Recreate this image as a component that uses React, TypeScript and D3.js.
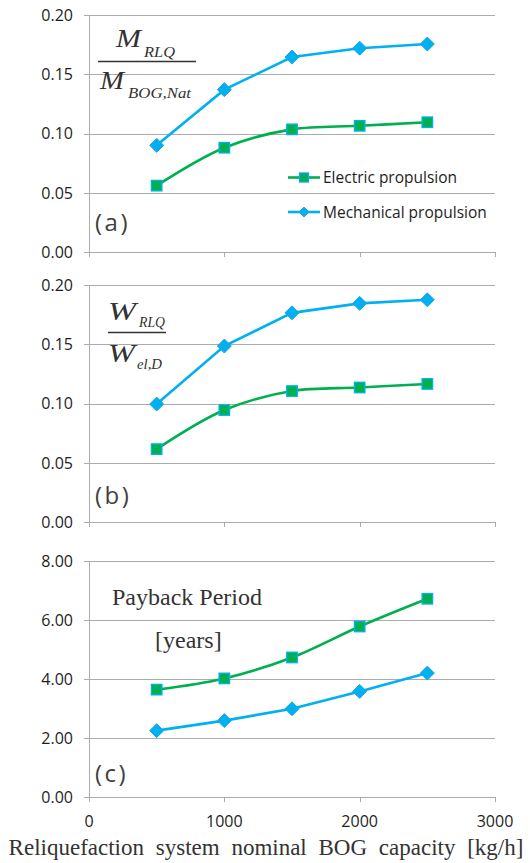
import React from "react";
import * as d3 from "d3";

// Reliquefaction system nominal BOG capacity [kg/h]
const capacities = [500, 1000, 1500, 2000, 2500];

// (a) liquefied mass ratio
const massElectric = [0.056, 0.088, 0.1035, 0.1065, 0.1095];
const massMechanical = [0.09, 0.137, 0.1645, 0.172, 0.1755];

// (b) power ratio
const powerElectric = [0.0615, 0.0945, 0.1105, 0.1135, 0.1165];
const powerMechanical = [0.0995, 0.1485, 0.1765, 0.1845, 0.1875];

// (c) payback period [years]
const paybackElectric = [3.64, 4.02, 4.73, 5.78, 6.72];
const paybackMechanical = [2.25, 2.59, 2.99, 3.58, 4.2];

const xTicks = [0, 1000, 2000, 3000];
const ratioTicks = [0, 0.05, 0.1, 0.15, 0.2];
const paybackTicks = [0, 2, 4, 6, 8];

const seriesNames = ["Electric propulsion", "Mechanical propulsion"];

const GREEN = "#00B050";
const BLUE = "#00B0F0";
const GRID = "#ababab";
const TEXT = "#1e1e1e";
const LABEL = "#404040";

const W = 530;
const H = 863;

const x = d3.scaleLinear().domain([0, 3000]).range([89, 495]);

type PanelProps = {
  top: number;
  bottom: number;
  max: number;
  ticks: number[];
  electric: number[];
  mechanical: number[];
  tag: string;
  tagY: number;
  showXLabels?: boolean;
  children?: React.ReactNode;
};

function Square({ cx, cy, s }: { cx: number; cy: number; s: number }) {
  return (
    <rect
      x={cx - s / 2}
      y={cy - s / 2}
      width={s}
      height={s}
      fill={GREEN}
      stroke={BLUE}
      strokeWidth={1.3}
    />
  );
}

function Diamond({ cx, cy, r }: { cx: number; cy: number; r: number }) {
  return (
    <path
      d={`M${cx},${cy - r}L${cx + r},${cy}L${cx},${cy + r}L${cx - r},${cy}Z`}
      fill={BLUE}
      stroke="#1fa6db"
      strokeWidth={1}
    />
  );
}

function Panel(p: PanelProps) {
  const y = d3.scaleLinear().domain([0, p.max]).range([p.bottom, p.top]);
  const smooth = d3
    .line<number>()
    .x((_, i) => x(capacities[i]))
    .y((v) => y(v))
    .curve(d3.curveCatmullRom.alpha(0.5));
  const straight = d3
    .line<number>()
    .x((_, i) => x(capacities[i]))
    .y((v) => y(v));
  const [x0, x1] = x.range();
  return (
    <g>
      {p.ticks.map((t) => (
        <g key={t}>
          <line
            x1={x0 - 5}
            x2={x1}
            y1={Math.round(y(t)) + 0.5}
            y2={Math.round(y(t)) + 0.5}
            stroke={GRID}
            strokeWidth={1}
          />
          <text
            x={73}
            y={y(t)}
            dy="0.36em"
            textAnchor="end"
            fontFamily="'Open Sans', sans-serif"
            fontSize={16}
            fill={TEXT}
          >
            {d3.format(".2f")(t)}
          </text>
        </g>
      ))}
      <line x1={x0 + 0.5} x2={x0 + 0.5} y1={p.top} y2={p.bottom + 5} stroke={GRID} />
      {xTicks.slice(1).map((t) => (
        <line
          key={t}
          x1={Math.round(x(t)) + 0.5}
          x2={Math.round(x(t)) + 0.5}
          y1={p.bottom}
          y2={p.bottom + 5}
          stroke={GRID}
        />
      ))}
      {p.showXLabels &&
        xTicks.map((t) => (
          <text
            key={t}
            x={x(t)}
            y={p.bottom + 24.5}
            dy="0.36em"
            textAnchor="middle"
            fontFamily="'Open Sans', sans-serif"
            fontSize={16}
            fill={TEXT}
          >
            {t}
          </text>
        ))}
      {p.children}
      <text
        x={95}
        y={p.tagY}
        dy="0.36em"
        fontFamily="'Open Sans', sans-serif"
        fontSize={24}
        letterSpacing={2.5}
        fill={LABEL}
      >
        ({p.tag})
      </text>
      <path d={smooth(p.electric) || ""} fill="none" stroke={GREEN} strokeWidth={2.6} />
      <path d={straight(p.mechanical) || ""} fill="none" stroke={BLUE} strokeWidth={2.6} />
      {p.electric.map((v, i) => (
        <Square key={i} cx={x(capacities[i])} cy={y(v)} s={10.5} />
      ))}
      {p.mechanical.map((v, i) => (
        <Diamond key={i} cx={x(capacities[i])} cy={y(v)} r={7} />
      ))}
    </g>
  );
}

const serif = "'Liberation Serif', 'Times New Roman', serif";

export default function App() {
  return (
    <svg
      width={W}
      height={H}
      viewBox={`0 0 ${W} ${H}`}
      style={{ position: "absolute", left: 0, top: 0, background: "#fff" }}
    >
      <rect width={W} height={H} fill="#fff" />

      <Panel
        top={15}
        bottom={252}
        max={0.2}
        ticks={ratioTicks}
        electric={massElectric}
        mechanical={massMechanical}
        tag="a"
        tagY={222}
      >
        <g fontFamily={serif} fontStyle="italic" fill="#333">
          <text x={116} y={47} fontSize={25} textLength={25} lengthAdjust="spacingAndGlyphs">M</text>
          <text x={144} y={57} fontSize={15} textLength={31} lengthAdjust="spacingAndGlyphs">RLQ</text>
          <line x1={98} x2={196} y1={61.5} y2={61.5} stroke="#333" strokeWidth={1.6} />
          <text x={100} y={88.5} fontSize={25} textLength={24} lengthAdjust="spacingAndGlyphs">M</text>
          <text x={128} y={98} fontSize={15} textLength={63} lengthAdjust="spacingAndGlyphs">BOG,Nat</text>
        </g>
        <g fontFamily="'Open Sans', sans-serif" fontSize={15.5} fill={TEXT}>
          <line x1={288} x2={320} y1={177.5} y2={177.5} stroke={GREEN} strokeWidth={2.6} />
          <Square cx={304} cy={177.5} s={9} />
          <text x={323} y={177.5} dy="0.36em">{seriesNames[0]}</text>
          <line x1={288} x2={320} y1={212} y2={212} stroke={BLUE} strokeWidth={2.6} />
          <Diamond cx={304} cy={212} r={5} />
          <text x={323} y={212} dy="0.36em">{seriesNames[1]}</text>
        </g>
      </Panel>

      <Panel
        top={285}
        bottom={522}
        max={0.2}
        ticks={ratioTicks}
        electric={powerElectric}
        mechanical={powerMechanical}
        tag="b"
        tagY={495}
      >
        <g fontFamily={serif} fontStyle="italic" fill="#333">
          <text x={108} y={320} fontSize={25} textLength={28} lengthAdjust="spacingAndGlyphs">W</text>
          <text x={139} y={327} fontSize={15} textLength={26} lengthAdjust="spacingAndGlyphs">RLQ</text>
          <line x1={108} x2={166} y1={332.5} y2={332.5} stroke="#333" strokeWidth={1.6} />
          <text x={108} y={361.5} fontSize={25} textLength={27} lengthAdjust="spacingAndGlyphs">W</text>
          <text x={137} y={369} fontSize={15} textLength={25} lengthAdjust="spacingAndGlyphs">el,D</text>
        </g>
      </Panel>

      <Panel
        top={561}
        bottom={797}
        max={8}
        ticks={paybackTicks}
        electric={paybackElectric}
        mechanical={paybackMechanical}
        tag="c"
        tagY={773}
        showXLabels
      >
        <g fontFamily={serif} fill="#333" fontSize={24}>
          <text x={112} y={605}>Payback Period</text>
          <text x={155} y={648}>[years]</text>
        </g>
      </Panel>

      <text
        x={266}
        y={855}
        textAnchor="middle"
        fontFamily={serif}
        fontSize={23}
        wordSpacing={6}
        fill="#333"
      >
        Reliquefaction system nominal BOG capacity [kg/h]
      </text>
    </svg>
  );
}
